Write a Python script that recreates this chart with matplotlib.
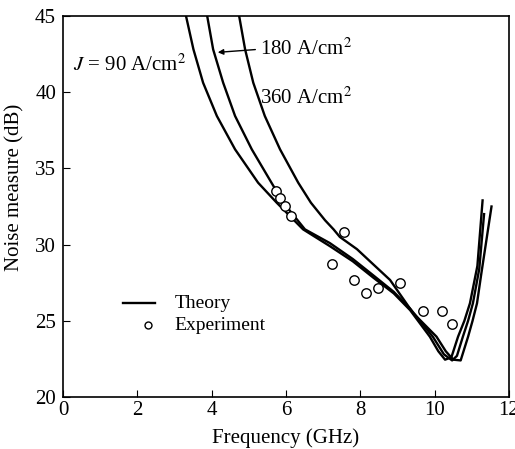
import numpy as np
import matplotlib.pyplot as plt

plt.rcParams['font.family'] = ['Liberation Serif', 'DejaVu Serif']
plt.rcParams['mathtext.fontset'] = 'stix'

# theory curves (frequency GHz, noise measure dB)
f_90 = [3.31, 3.51, 3.77, 4.14, 4.63, 5.25, 5.75, 6.46, 7.18, 7.80, 8.34, 8.90, 9.34,
        9.87, 10.10, 10.28, 10.45, 10.63, 10.80, 10.95, 11.15, 11.29]
nm_90 = [45.0, 42.81, 40.62, 38.44, 36.25, 34.06, 32.75, 31.0, 29.9, 28.9, 27.85, 26.8, 25.7,
         23.96, 23.0, 22.45, 22.6, 23.96, 25.0, 26.15, 28.6, 32.9]

f_180 = [3.88, 4.04, 4.31, 4.63, 5.08, 5.61, 5.93, 6.51, 7.18, 7.80, 8.34, 8.90, 9.34,
         9.95, 10.25, 10.47, 10.60, 10.76, 10.90, 11.03, 11.20, 11.33]
nm_180 = [45.0, 42.81, 40.62, 38.44, 36.25, 34.06, 32.75, 31.0, 30.1, 29.05, 28.0, 26.9, 25.8,
          23.96, 22.8, 22.4, 22.7, 23.96, 25.0, 26.15, 28.4, 32.0]

f_360 = [4.74, 4.90, 5.12, 5.43, 5.84, 6.33, 6.67, 7.05, 7.28, 7.45, 7.91, 8.35, 8.80, 9.42,
         10.05, 10.30, 10.50, 10.70, 10.90, 11.02, 11.14, 11.25, 11.53]
nm_360 = [45.0, 42.81, 40.62, 38.44, 36.25, 34.06, 32.75, 31.6, 31.0, 30.5, 29.7, 28.7, 27.68, 25.51,
          23.96, 23.0, 22.45, 22.4, 23.96, 25.0, 26.15, 28.0, 32.5]

# experiment points
f_exp = [5.72, 5.84, 5.98, 6.13, 7.23, 7.57, 7.84, 8.15, 8.48, 9.07, 9.68, 10.21, 10.48]
nm_exp = [33.54, 33.04, 32.55, 31.9, 28.73, 30.8, 27.68, 26.85, 27.17, 27.46, 25.64, 25.66, 24.79]

fig = plt.figure(figsize=(5.15, 4.49), dpi=100)
ax = fig.add_axes([0.1223, 0.1158, 0.866, 0.8486])

for f, nm in [(f_90, nm_90), (f_180, nm_180), (f_360, nm_360)]:
    ax.plot(f, nm, color='black', lw=1.7, solid_joinstyle='round')
ax.plot(f_exp, nm_exp, 'o', mfc='white', mec='black', ms=6.8, mew=1.0)

ax.set_xlim(0, 12)
ax.set_ylim(20, 45)
ax.set_xticks(range(0, 13, 2))
ax.set_yticks(range(20, 46, 5))
ax.tick_params(direction='in', length=5, labelsize=15, top=False, right=False)
ax.tick_params(axis='x', pad=3)
ax.tick_params(axis='y', pad=5)
ax.set_xlabel('Frequency (GHz)', fontsize=15, labelpad=6)
ax.set_ylabel('Noise measure (dB)', fontsize=15)
ax.yaxis.set_label_coords(-0.086, 0.551)
for s in ax.spines.values():
    s.set_linewidth(1.2)

ax.text(0.27, 41.8, r'$J$ = 90 A/cm$^2$', fontsize=15, va='center', ha='left')
ax.text(5.3, 42.81, r'180 A/cm$^2$', fontsize=15, va='center', ha='left')
ax.text(5.3, 39.6, r'360 A/cm$^2$', fontsize=15, va='center', ha='left')
ax.annotate('', xy=(4.09, 42.6), xytext=(5.25, 42.81),
            arrowprops=dict(arrowstyle='-|>', color='black', lw=1.0, mutation_scale=8))

# legend drawn by hand
ax.plot([1.61, 2.48], [26.15, 26.15], color='black', lw=1.7)
ax.text(3.01, 26.15, 'Theory', fontsize=14, va='center')
ax.plot([2.29], [24.7], 'o', mfc='white', mec='black', ms=5, mew=1.0)
ax.text(3.01, 24.7, 'Experiment', fontsize=14, va='center')

fig.savefig('out.png', dpi=100)
